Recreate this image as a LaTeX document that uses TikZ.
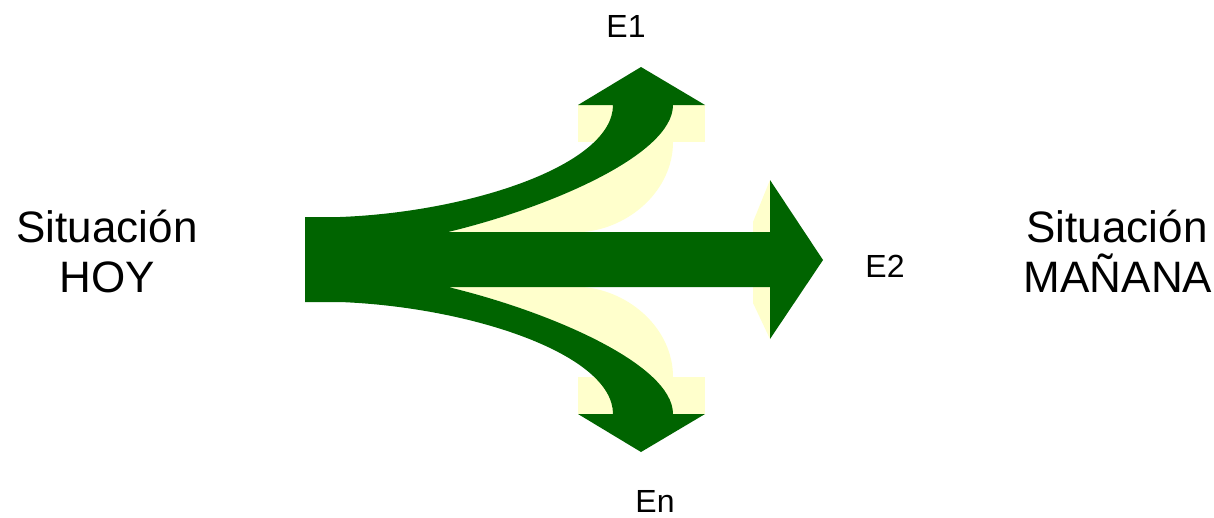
\documentclass[tikz,border=0pt]{standalone}
\usepackage{fontspec}
\setmainfont{Liberation Sans}
\definecolor{arrowgreen}{RGB}{0,100,0}
\definecolor{shadowcream}{RGB}{255,255,204}
\begin{document}
\begin{tikzpicture}[x=1pt,y=-1pt,
  bigtext/.style={anchor=base,inner sep=0pt,font=\fontsize{44}{50}\selectfont},
  smalltext/.style={anchor=base,inner sep=0pt,font=\fontsize{32}{36}\selectfont},
  greenfill/.style={fill=arrowgreen,draw=none},
  creamfill/.style={fill=shadowcream,draw=none}]
\useasboundingbox[fill=white] (0,0) rectangle (1214,517);
% shadows
\fill[creamfill] (578,105) rectangle (705,142);
\fill[creamfill] (448,232) .. controls (548,208) and (673,155) .. (673,105)
  -- (673,142) .. controls (673,190) and (630,228) .. (583,232) -- cycle;
\fill[creamfill] (578,377) rectangle (705,414);
\fill[creamfill] (448,287) .. controls (548,311) and (673,364) .. (673,414)
  -- (673,377) .. controls (673,329) and (630,291) .. (583,287) -- cycle;
\fill[creamfill] (770,180) -- (753,222) -- (753,232) -- (770,232) -- cycle;
\fill[creamfill] (770,339) -- (753,303) -- (753,287) -- (770,287) -- cycle;
% green arrows
\fill[greenfill] (305,217) -- (340,217)
  .. controls (470,212) and (613,165) .. (613,105)
  -- (578,105) -- (641,67) -- (705,105) -- (673,105)
  .. controls (673,155) and (548,208) .. (448,232)
  -- (770,232) -- (770,180) -- (823,260) -- (770,339) -- (770,287)
  -- (448,287) .. controls (548,311) and (673,364) .. (673,414)
  -- (705,414) -- (641,452) -- (578,414) -- (613,414)
  .. controls (613,354) and (470,307) .. (340,302)
  -- (305,302) -- cycle;
% labels
\node[bigtext] (hoy1) at (107,242) {Situación};
\node[bigtext] (hoy2) at (107,292) {HOY};
\node[bigtext] (man1) at (1117,242) {Situación};
\node[bigtext] (man2) at (1118,292) {MAÑANA};
\node[smalltext] (e1) at (626,37) {E1};
\node[smalltext] (e2) at (885,277) {E2};
\node[smalltext] (en) at (655,512) {En};
\end{tikzpicture}
\end{document}
